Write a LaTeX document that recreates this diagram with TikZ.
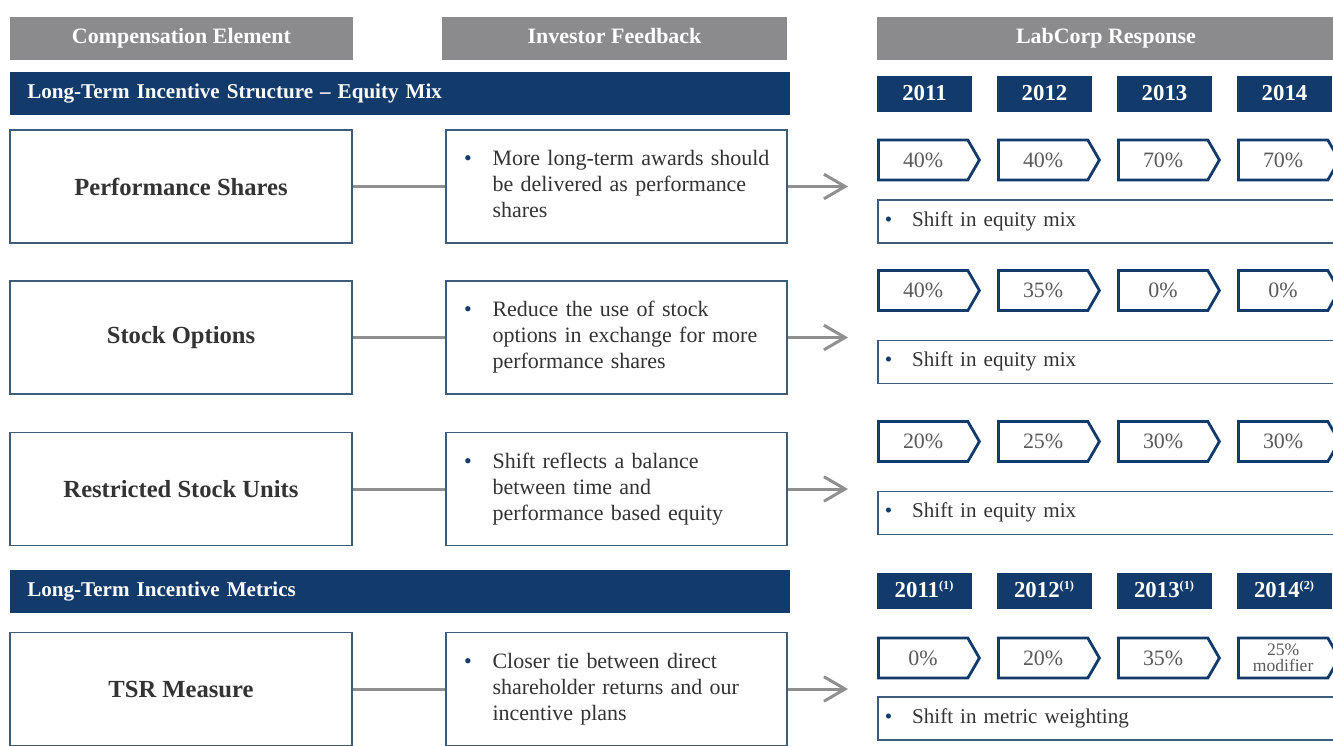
\documentclass[tikz,border=0pt]{standalone}
\usepackage{fontspec}
\setmainfont{Liberation Serif}
\usetikzlibrary{shapes.symbols, arrows.meta}

\definecolor{navy}{HTML}{123B6C}
\definecolor{hdrgray}{HTML}{8B8B8D}
\definecolor{edge}{HTML}{3F5B7A}
\definecolor{ink}{HTML}{333333}
\definecolor{pctink}{HTML}{5A5A5A}
\definecolor{linkgray}{HTML}{8F8F8F}

\newcommand{\bul}[1]{\mbox{{\color{navy}\textbullet}\hspace{0.95em}\begin{tabular}[t]{@{}l@{}}#1\end{tabular}}}

\tikzset{
  hdr/.style={fill=hdrgray, text=white, minimum height=0.86cm, inner sep=0pt,
    text height=9pt, text depth=3pt,
    font=\fontsize{12.5}{14}\selectfont\bfseries},
  bar/.style={fill=navy, text=white, anchor=west, minimum height=0.86cm,
    inner xsep=0.34cm, inner ysep=0pt, text height=9pt, text depth=3pt,
    text width=14.92cm, align=left,
    font=\fontsize{12}{14}\selectfont\bfseries},
  yr/.style={fill=navy, text=white, minimum width=1.9cm, minimum height=0.72cm,
    inner sep=0pt, text height=9.5pt, text depth=2pt,
    font=\fontsize{13}{15}\selectfont\bfseries},
  elem/.style={draw=edge, line width=0.9pt, fill=white, minimum width=6.84cm,
    minimum height=2.26cm, text=ink, font=\fontsize{14}{16}\selectfont\bfseries},
  fb/.style={draw=edge, line width=0.9pt, fill=white, minimum width=6.82cm,
    minimum height=2.26cm, text width=6.1cm, align=left, text=ink,
    font=\fontsize{12.5}{14.8}\selectfont},
  pct/.style={signal, signal to=east, signal pointer angle=120, draw=navy,
    line width=1.6pt, fill=white, anchor=west, minimum width=2.02cm,
    minimum height=0.8cm, inner sep=0pt, text=pctink,
    font=\fontsize{12.5}{14}\selectfont},
  shiftbox/.style={draw=edge, line width=0.9pt, anchor=west, minimum height=0.86cm,
    inner xsep=0.14cm, text width=9cm, align=left, text=ink,
    font=\fontsize{12}{14}\selectfont},
  link/.style={draw=linkgray, line width=1.7pt},
  larrow/.style={link, -{Straight Barb[length=12pt, width=14pt]}},
}

\begin{document}
\begin{tikzpicture}[x=0.02cm, y=-0.02cm]
    \useasboundingbox (0,0) rectangle (1333,745);
    \clip (0,0) rectangle (1333,745);

    % column headers
    \node[hdr, minimum width=6.86cm] (hcomp) at (181.5,38.5) {Compensation Element};
    \node[hdr, minimum width=6.9cm] (hinv) at (614.5,38.5) {Investor Feedback};
    \node[hdr, minimum width=9.16cm] (hlab) at (1106,38.5) {LabCorp Response};

    % section bars
    \node[bar] (mix) at (10,93.5) {Long-Term Incentive Structure -- Equity Mix};
    \node[bar] (metrics) at (10,591) {Long-Term Incentive Metrics};

    \foreach \yr [count=\i from 0] in {2011, 2012, 2013, 2014}
      \node[yr] (y\yr) at (924.5+120*\i,93.5) {\yr};
    \foreach \yr/\nt [count=\i from 0] in {2011/1, 2012/1, 2013/1, 2014/2}
      \node[yr] (m\yr) at (924.5+120*\i,590.5) {\yr\textsuperscript{\fontsize{7}{8}\selectfont(\nt)}};

    % rows
    \node[elem] (pshares) at (181,186.5) {Performance Shares};
    \node[elem] (options) at (181,337.5) {Stock Options};
    \node[elem] (rsu) at (181,489) {Restricted Stock Units};
    \node[elem] (tsr) at (181,689) {TSR Measure};

    \node[fb] (fbpshares) at (616.5,186.5) {\bul{More long-term awards should\\be delivered as performance\\shares}};
    \node[fb] (fboptions) at (616.5,337.5) {\bul{Reduce the use of stock\\options in exchange for more\\performance shares}};
    \node[fb] (fbrsu) at (616.5,489) {\bul{Shift reflects a balance\\between time and\\performance based equity}};
    \node[fb] (fbtsr) at (616.5,689) {\bul{Closer tie between direct\\shareholder returns and our\\incentive plans}};

    \foreach \n/\y in {pshares/186.5, options/337.5, rsu/489, tsr/689} {
      \coordinate (to\n) at (848,\y);
      \draw[link] (\n) -- (fb\n);
      \draw[larrow] (fb\n) -- (to\n);
    }

    % equity mix and metric weights
    \foreach \p [count=\i from 0] in {40\%, 40\%, 70\%, 70\%}
      \node[pct] (ps\i) at (877+120*\i,160) {\p};
    \foreach \p [count=\i from 0] in {40\%, 35\%, 0\%, 0\%}
      \node[pct] (op\i) at (877+120*\i,290.5) {\p};
    \foreach \p [count=\i from 0] in {20\%, 25\%, 30\%, 30\%}
      \node[pct] (ru\i) at (877+120*\i,441.5) {\p};
    \foreach \p [count=\i from 0] in {0\%, 20\%, 35\%}
      \node[pct] (ts\i) at (877+120*\i,658) {\p};
    \node[pct, align=center, font=\fontsize{10}{9}\selectfont] (ts3) at (1237,658) {25\%\\modifier};

    \node[shiftbox] (shpshares) at (877,221.5) {\bul{Shift in equity mix}};
    \node[shiftbox] (shoptions) at (877,362) {\bul{Shift in equity mix}};
    \node[shiftbox] (shrsu) at (877,513) {\bul{Shift in equity mix}};
    \node[shiftbox] (shtsr) at (877,718.5) {\bul{Shift in metric weighting}};
\end{tikzpicture}
\end{document}
